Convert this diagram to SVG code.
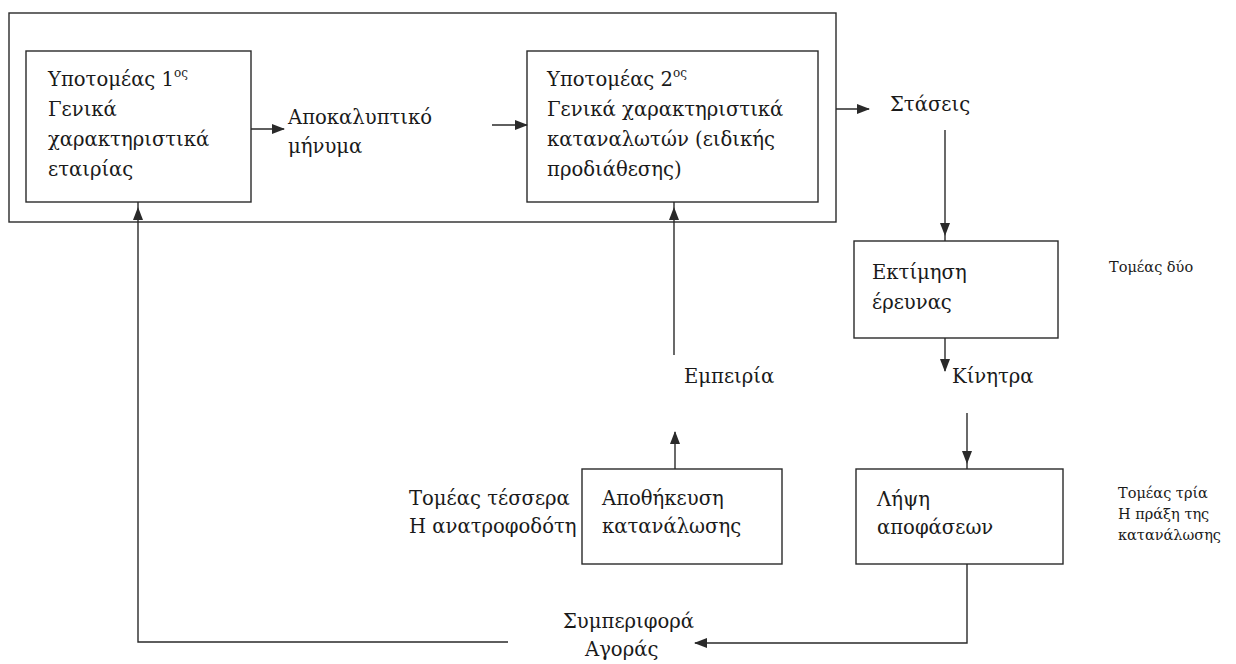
<svg xmlns="http://www.w3.org/2000/svg" width="1236" height="664" viewBox="0 0 1236 664">
<style>
.box{fill:#fff;stroke:#2a2a2a;stroke-width:1.4}
.ln{fill:none;stroke:#2a2a2a;stroke-width:1.4}
.t{font-family:"DejaVu Serif",serif;font-size:19.6px;fill:#1a1a1a}
.s{font-family:"DejaVu Serif",serif;font-size:14.5px;fill:#1a1a1a}
.sup{font-size:12px}
</style>
<defs>
<marker id="arr" markerUnits="userSpaceOnUse" markerWidth="13" markerHeight="10" refX="12" refY="5" orient="auto">
<path d="M0,0 L13,5 L0,10 z" fill="#2a2a2a"/>
</marker>
<marker id="arrIn" markerUnits="userSpaceOnUse" markerWidth="20" markerHeight="10" refX="18" refY="5" orient="auto">
<path d="M0,0 L13,5 L0,10 z" fill="#2a2a2a"/>
</marker>
</defs>
<rect width="1236" height="664" fill="#fff"/>
<g id="outer"><rect class="box" x="9" y="13" width="827" height="209" fill="none"/></g>
<g id="sub1">
<rect class="box" x="26" y="51" width="225" height="151"/>
<text class="t" x="48" y="86">Υποτομέας 1<tspan class="sup" dy="-9">ος</tspan></text>
<text class="t" x="48" y="116">Γενικά</text>
<text class="t" x="48" y="146">χαρακτηριστικά</text>
<text class="t" x="48" y="176">εταιρίας</text>
</g>
<g id="message">
<text class="t" x="288" y="124">Αποκαλυπτικό</text>
<text class="t" x="288" y="153">μήνυμα</text>
</g>
<g id="sub2">
<rect class="box" x="527" y="51" width="291" height="151"/>
<text class="t" x="547" y="86">Υποτομέας 2<tspan class="sup" dy="-9">ος</tspan></text>
<text class="t" x="547" y="116">Γενικά χαρακτηριστικά</text>
<text class="t" x="547" y="146">καταναλωτών (ειδικής</text>
<text class="t" x="547" y="176">προδιάθεσης)</text>
</g>
<g id="attitudes"><text class="t" x="890" y="111">Στάσεις</text></g>
<g id="research">
<rect class="box" x="854" y="241" width="204" height="97"/>
<text class="t" x="872" y="279">Εκτίμηση</text>
<text class="t" x="872" y="309">έρευνας</text>
</g>
<g id="sector2"><text class="s" x="1109" y="272">Τομέας δύο</text></g>
<g id="motives"><text class="t" x="952" y="383">Κίνητρα</text></g>
<g id="experience"><text class="t" x="684" y="383">Εμπειρία</text></g>
<g id="sector4">
<text class="t" x="409" y="505">Τομέας τέσσερα</text>
<text class="t" x="409" y="533">Η ανατροφοδότη</text>
</g>
<g id="storage">
<rect class="box" x="582" y="469" width="200" height="95"/>
<text class="t" x="602" y="505">Αποθήκευση</text>
<text class="t" x="602" y="533">κατανάλωσης</text>
</g>
<g id="decision">
<rect class="box" x="856" y="469" width="207" height="95"/>
<text class="t" x="877" y="506">Λήψη</text>
<text class="t" x="877" y="534">αποφάσεων</text>
</g>
<g id="sector3">
<text class="s" x="1118" y="498">Τομέας τρία</text>
<text class="s" x="1118" y="519">Η πράξη της</text>
<text class="s" x="1118" y="540">κατανάλωσης</text>
</g>
<g id="behaviour">
<text class="t" x="563" y="628">Συμπεριφορά</text>
<text class="t" x="585" y="656">Αγοράς</text>
</g>
<g id="connectors">
<line class="ln" x1="251" y1="129" x2="284" y2="129" marker-end="url(#arr)"/>
<line class="ln" x1="492" y1="125" x2="527" y2="125" marker-end="url(#arr)"/>
<line class="ln" x1="836" y1="109" x2="869" y2="109" marker-end="url(#arr)"/>
<line class="ln" x1="945" y1="130" x2="945" y2="241" marker-end="url(#arrIn)"/>
<line class="ln" x1="945" y1="338" x2="945" y2="371" marker-end="url(#arr)"/>
<line class="ln" x1="967" y1="413" x2="967" y2="469" marker-end="url(#arrIn)"/>
<polyline class="ln" points="967,564 967,643 695,643" marker-end="url(#arr)"/>
<polyline class="ln" points="508,642 138,642 138,202" marker-end="url(#arrIn)"/>
<line class="ln" x1="674" y1="355" x2="674" y2="202" marker-end="url(#arrIn)"/>
<line class="ln" x1="675" y1="469" x2="675" y2="432" marker-end="url(#arr)"/>
</g>
</svg>
